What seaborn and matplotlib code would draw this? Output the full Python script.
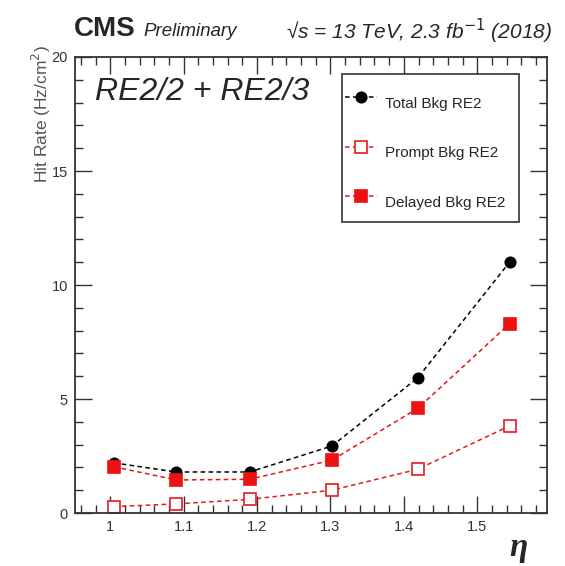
import matplotlib
matplotlib.use("Agg")
import matplotlib.pyplot as plt
import seaborn as sns
import pandas as pd
from matplotlib.ticker import MultipleLocator
from matplotlib.lines import Line2D
from matplotlib.patches import Rectangle

eta = [1.005, 1.09, 1.19, 1.302, 1.419, 1.544]
total_bkg = [2.2, 1.8, 1.8, 2.94, 5.93, 11.0]
prompt_bkg = [0.28, 0.4, 0.6, 1.0, 1.92, 3.82]
delayed_bkg = [2.03, 1.45, 1.48, 2.32, 4.59, 8.3]
series_names = ["Total Bkg RE2", "Prompt Bkg RE2", "Delayed Bkg RE2"]
x_ticks = [1.0, 1.1, 1.2, 1.3, 1.4, 1.5]
x_tick_labels = ["1", "1.1", "1.2", "1.3", "1.4", "1.5"]
y_ticks = [0, 5, 10, 15, 20]

sns.set_style("ticks")
plt.rcParams["font.family"] = ["Liberation Sans", "DejaVu Sans"]

fig = plt.figure(figsize=(5.65, 5.66), dpi=100)
ax = fig.add_axes([0.1327, 0.0936, 0.8354, 0.8057])

dash = (0, (3, 2.2))
styles = [
    dict(y=total_bkg, color="black", marker="o", mfc="black", ms=7.5),
    dict(y=prompt_bkg, color="#e8191c", marker="s", mfc="white", ms=8),
    dict(y=delayed_bkg, color="#ee1111", marker="s", mfc="#ee1111", ms=8),
]
handles = []
for name, st in zip(series_names, styles):
    df = pd.DataFrame({"eta": eta, "rate": st["y"]})
    sns.lineplot(data=df, x="eta", y="rate", ax=ax, color=st["color"],
                 linestyle=dash, linewidth=1.1, marker=st["marker"],
                 markersize=st["ms"], markerfacecolor=st["mfc"],
                 markeredgecolor=st["color"], markeredgewidth=1.2)
    handles.append(Line2D([], [], color=st["color"], linestyle=dash,
                          linewidth=1.1, marker=st["marker"], markersize=st["ms"],
                          markerfacecolor=st["mfc"], markeredgecolor=st["color"],
                          markeredgewidth=1.2, label=name))

ax.set_xlim(0.952, 1.595)
ax.set_ylim(0, 20)
ax.set_xticks(x_ticks)
ax.set_xticklabels(x_tick_labels)
ax.set_yticks(y_ticks)
ax.xaxis.set_minor_locator(MultipleLocator(0.02))
ax.yaxis.set_minor_locator(MultipleLocator(1))
ax.tick_params(which="both", direction="in", top=True, right=True,
               labelsize=10.5, color="#333333", labelcolor="#333333", pad=5)
ax.tick_params(which="major", length=12, width=1)
ax.tick_params(which="minor", length=6, width=1)
for s in ax.spines.values():
    s.set_linewidth(1.3)
    s.set_color("#333333")
    s.set_visible(True)

ax.set_xlabel("")
ax.set_ylabel("Hit Rate (Hz/cm$^2$)", fontsize=12.5, color="#555555")
ax.yaxis.set_label_coords(-0.046, 1.026)
ax.yaxis.label.set_horizontalalignment("right")

fig.text(0.917, 0.032, "η", fontsize=24, fontweight="bold", style="italic",
         family="Liberation Serif", ha="center", va="center")

fig.text(0.131, 0.948, "CMS", fontsize=20, fontweight="bold", ha="left", va="center")
fig.text(0.253, 0.945, "Preliminary", fontsize=13.5, style="italic", ha="left", va="center")
fig.text(0.977, 0.945, "√s = 13 TeV, 2.3 fb$^{-1}$ (2018)", fontsize=15,
         style="italic", ha="right", va="center")

ax.text(0.042, 0.924, "RE2/2 + RE2/3", transform=ax.transAxes, fontsize=23,
        style="italic", ha="left", va="center")

ax.add_patch(Rectangle((0.565, 0.638), 0.376, 0.325, transform=ax.transAxes,
                       facecolor="white", edgecolor="#333333", linewidth=1.2,
                       zorder=4))
leg = ax.legend(handles=handles, loc="upper left", bbox_to_anchor=(0.572, 0.934),
                frameon=False, fontsize=11, labelspacing=1.1, handleheight=2.9,
                borderpad=0, handlelength=2.1, handletextpad=0.5,
                borderaxespad=0)
leg.set_zorder(5)

fig.savefig("out.png", dpi=100)
